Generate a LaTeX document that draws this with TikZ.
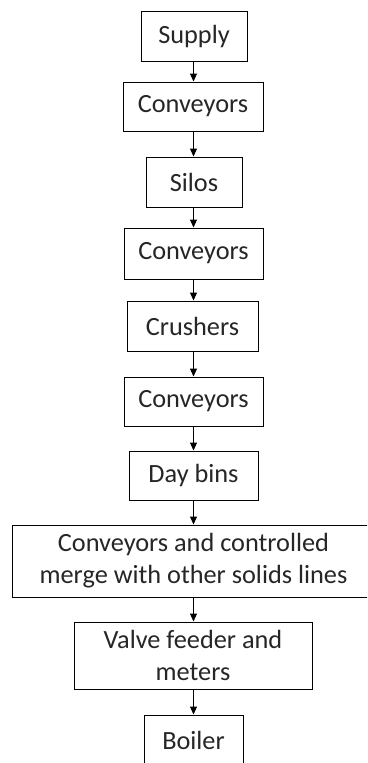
\documentclass[tikz,border=0pt]{standalone}
\usepackage{fontspec}
\setmainfont{Carlito}
\usetikzlibrary{arrows.meta}
\begin{document}
\begin{tikzpicture}[x=1pt,y=-1pt,
  box/.style={draw=black, line width=1pt, fill=white, inner sep=0pt, align=center,
    font=\fontsize{26.3}{32}\selectfont, text=black!85},
  flow/.style={draw=black, line width=1pt, -{Triangle[width=7pt,length=8pt]}}]
\useasboundingbox (0,0) rectangle (367,763);
\clip (0,0) rectangle (367,763);
\node[box, minimum width=106pt, minimum height=50pt] (supply) at (194,36) {Supply};
\node[box, minimum width=140pt, minimum height=49pt] (conv1) at (193,106.5) {Conveyors};
\node[box, minimum width=96pt, minimum height=50pt] (silos) at (194,182) {Silos};
\node[box, minimum width=139pt, minimum height=51pt] (conv2) at (193.5,253.5) {Conveyors};
\node[box, minimum width=131pt, minimum height=50pt] (crush) at (192.5,326) {Crushers};
\node[box, minimum width=139pt, minimum height=49pt] (conv3) at (193.5,401.5) {Conveyors};
\node[box, minimum width=129pt, minimum height=49pt] (day) at (193.5,475.5) {Day bins};
\node[box, minimum width=362pt, minimum height=72pt] (merge) at (193.5,561) {Conveyors and controlled\\merge with other solids lines};
\node[box, minimum width=238pt, minimum height=67pt] (valve) at (193,655.5) {Valve feeder and\\meters};
\node[box, minimum width=99pt, minimum height=50pt] (boiler) at (193.5,740) {Boiler};
\draw[flow] (supply.south -| 193.5,0) -- (conv1.north -| 193.5,0);
\draw[flow] (conv1.south -| 193.5,0) -- (silos.north -| 193.5,0);
\draw[flow] (silos.south -| 193.5,0) -- (conv2.north -| 193.5,0);
\draw[flow] (conv2.south -| 193.5,0) -- (crush.north -| 193.5,0);
\draw[flow] (crush.south -| 193.5,0) -- (conv3.north -| 193.5,0);
\draw[flow] (conv3.south -| 193.5,0) -- (day.north -| 193.5,0);
\draw[flow] (day.south -| 193.5,0) -- (merge.north -| 193.5,0);
\draw[flow] (merge.south -| 193.5,0) -- (valve.north -| 193.5,0);
\draw[flow] (valve.south -| 193.5,0) -- (boiler.north -| 193.5,0);
\end{tikzpicture}
\end{document}
